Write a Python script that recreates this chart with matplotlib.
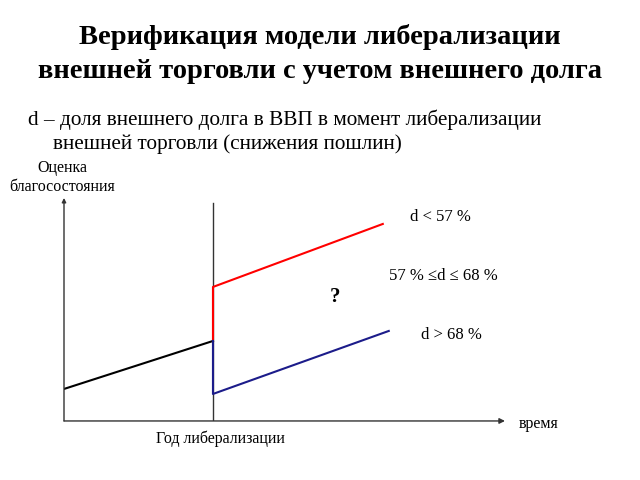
import matplotlib
matplotlib.use('Agg')
import matplotlib.pyplot as plt

# schematic welfare paths (arbitrary units): time vs welfare estimate
years_before = [0, 5]
welfare_before = [1.6, 4.0]
years_low_debt = [5, 5, 10.7]
welfare_low_debt = [4.0, 6.7, 9.85]
years_high_debt = [5, 5, 10.9]
welfare_high_debt = [4.0, 1.35, 4.5]
lib_year = 5
case_labels = ['d < 57 %', '57 % \u2264d \u2264 68 %', 'd > 68 %']

plt.rcParams['font.family'] = ['Liberation Serif', 'DejaVu Serif']

fig = plt.figure(figsize=(6.4, 4.8), dpi=100)
ax = fig.add_axes([0.1, 0.123, 0.689, 0.4646])
ax.set_xlim(0, 14.8)
ax.set_ylim(0, 11.15)
ax.axis('off')

# axes with arrows
ax.annotate('', xy=(1, 0), xytext=(0, 0), xycoords='axes fraction',
            arrowprops=dict(arrowstyle='-|>', color='#333333', lw=1.0,
                            mutation_scale=8, shrinkA=0, shrinkB=0))
ax.annotate('', xy=(0, 1), xytext=(0, 0), xycoords='axes fraction',
            arrowprops=dict(arrowstyle='-|>', color='#333333', lw=1.0,
                            mutation_scale=6, shrinkA=0, shrinkB=0))
ax.plot([lib_year, lib_year], [0, 10.9], color='#333333', lw=1.0)

ax.plot(years_before, welfare_before, color='black', lw=1.5)
ax.plot(years_low_debt, welfare_low_debt, color='red', lw=1.5)
ax.plot(years_high_debt, welfare_high_debt, color='#1c1c8a', lw=1.5)

fig.text(0.5, 0.922, 'Верификация модели либерализации', ha='center', va='center',
         fontsize=20.5, fontweight='bold')
fig.text(0.5, 0.851, 'внешней торговли с учетом внешнего долга', ha='center', va='center',
         fontsize=20.5, fontweight='bold')
fig.text(0.044, 0.750, 'd – доля внешнего долга в ВВП в момент либерализации',
         ha='left', va='center', fontsize=15.3)
fig.text(0.083, 0.700, 'внешней торговли (снижения пошлин)',
         ha='left', va='center', fontsize=15.3)

fig.text(0.097, 0.650, 'Оценка', ha='center', va='center', fontsize=11.5)
fig.text(0.097, 0.610, 'благосостояния', ha='center', va='center', fontsize=11.5)
fig.text(0.345, 0.085, 'Год либерализации', ha='center', va='center', fontsize=11.5)
fig.text(0.81, 0.117, 'время', ha='left', va='center', fontsize=11.5)

fig.text(0.688, 0.548, case_labels[0], ha='center', va='center', fontsize=12)
fig.text(0.693, 0.425, case_labels[1], ha='center', va='center', fontsize=12)
fig.text(0.705, 0.302, case_labels[2], ha='center', va='center', fontsize=12)
fig.text(0.524, 0.382, '?', ha='center', va='center', fontsize=15, fontweight='bold')

fig.savefig('out.png', dpi=100)
